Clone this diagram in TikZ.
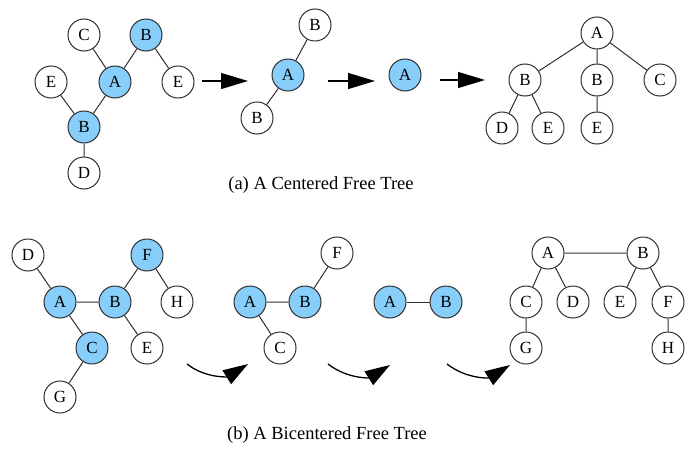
\documentclass[tikz,border=0pt]{standalone}
\usepackage{fontspec}
\setmainfont{Liberation Serif}
\usetikzlibrary{arrows.meta}
\definecolor{nodefill}{HTML}{87CEFA}
\definecolor{edgecol}{HTML}{2E2E2E}
\tikzset{
  tn/.style={circle,draw=edgecol,line width=1pt,minimum size=32pt,inner sep=0pt,fill=white,font=\fontsize{17}{17}\selectfont},
  cn/.style={tn,fill=nodefill},
  te/.style={draw=edgecol,line width=1pt},
  bigarrow/.style={line width=1.3pt,-{Triangle[length=27pt,width=16pt]}},
  curvearrow/.style={line width=1.3pt,-{Triangle[length=25pt,width=16pt]}},
  caption/.style={font=\fontsize{18.5}{20}\selectfont}
}
\begin{document}
\begin{tikzpicture}[x=1pt,y=-1pt]
\useasboundingbox (0,0) rectangle (700,452);
% ---------- (a) ----------
\node[tn] (aC) at (84,35) {C};
\node[cn] (aB1) at (146,35) {B};
\node[tn] (aE1) at (51,82) {E};
\node[cn] (aA) at (115,82) {A};
\node[tn] (aE2) at (178,82) {E};
\node[cn] (aB2) at (84,127) {B};
\node[tn] (aD) at (84,173) {D};
\path[te] (aC)--(aA) (aB1)--(aA) (aB1)--(aE2) (aE1)--(aB2) (aA)--(aB2) (aB2)--(aD);

\coordinate (a1s) at (202,81); \coordinate (a1e) at (248,81);
\draw[bigarrow] (a1s)--(a1e);

\node[tn] (bBt) at (315,25) {B};
\node[cn] (bA) at (288,75) {A};
\node[tn] (bBb) at (257,118) {B};
\path[te] (bBt)--(bA) (bA)--(bBb);

\coordinate (a2s) at (328,81); \coordinate (a2e) at (375,81);
\draw[bigarrow] (a2s)--(a2e);

\node[cn] (cA) at (405,75) {A};

\coordinate (a3s) at (440,80); \coordinate (a3e) at (485,80);
\draw[bigarrow] (a3s)--(a3e);

\node[tn] (dA) at (597,33) {A};
\node[tn] (dB1) at (525,80) {B};
\node[tn] (dB2) at (597,80) {B};
\node[tn] (dC) at (660,80) {C};
\node[tn] (dD) at (502,128) {D};
\node[tn] (dE1) at (548,128) {E};
\node[tn] (dE2) at (597,128) {E};
\path[te] (dA)--(dB1) (dA)--(dB2) (dA)--(dC) (dB1)--(dD) (dB1)--(dE1) (dB2)--(dE2);

\node[caption] (capa) at (321,185) {(a) A Centered Free Tree};

% ---------- (b) ----------
\node[tn] (eD) at (28,255) {D};
\node[cn] (eF) at (147,255) {F};
\node[cn] (eA) at (60,302) {A};
\node[cn] (eB) at (115,302) {B};
\node[tn] (eH) at (177,302) {H};
\node[cn] (eC) at (92,348) {C};
\node[tn] (eE) at (147,348) {E};
\node[tn] (eG) at (60,397) {G};
\path[te] (eD)--(eA) (eA)--(eB) (eB)--(eF) (eF)--(eH) (eA)--(eC) (eB)--(eE) (eC)--(eG);

\coordinate (b1s) at (187,364); \coordinate (b1e) at (248,364);
\draw[curvearrow] (b1s) to[out=-38,in=212] (b1e);

\node[tn] (fF) at (337,253) {F};
\node[cn] (fA) at (250,302) {A};
\node[cn] (fB) at (305,302) {B};
\node[tn] (fC) at (280,348) {C};
\path[te] (fA)--(fB) (fB)--(fF) (fA)--(fC);

\coordinate (b2s) at (328,364); \coordinate (b2e) at (390,365);
\draw[curvearrow] (b2s) to[out=-38,in=212] (b2e);

\node[cn] (gA) at (390,302) {A};
\node[cn] (gB) at (446,302) {B};
\path[te] (gA)--(gB);

\coordinate (b3s) at (447,364); \coordinate (b3e) at (510,365);
\draw[curvearrow] (b3s) to[out=-38,in=212] (b3e);

\node[tn] (hA) at (548,253) {A};
\node[tn] (hB) at (643,253) {B};
\node[tn] (hC) at (526,302) {C};
\node[tn] (hD) at (573,302) {D};
\node[tn] (hE) at (620,302) {E};
\node[tn] (hF) at (668,302) {F};
\node[tn] (hG) at (526,348) {G};
\node[tn] (hH) at (668,348) {H};
\path[te] (hA)--(hB) (hA)--(hC) (hA)--(hD) (hB)--(hE) (hB)--(hF) (hC)--(hG) (hF)--(hH);

\node[caption] (capb) at (327,435) {(b) A Bicentered Free Tree};
\end{tikzpicture}
\end{document}
